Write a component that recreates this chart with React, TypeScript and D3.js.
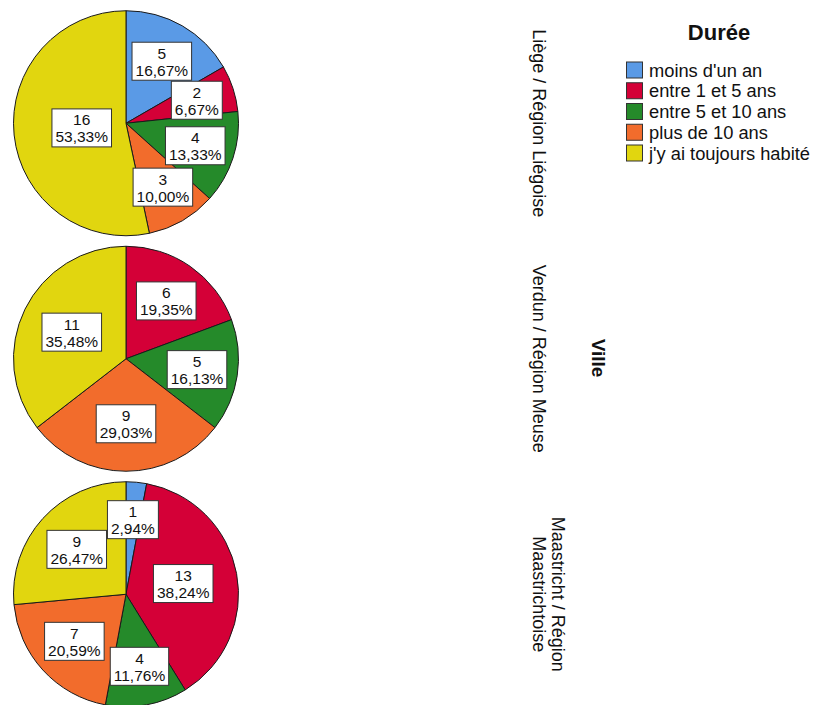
import React from "react";
import * as d3 from "d3";

// Durée de résidence, par ville
const categories = [
  "moins d'un an",
  "entre 1 et 5 ans",
  "entre 5 et 10 ans",
  "plus de 10 ans",
  "j'y ai toujours habité",
];
const colors = ["#5a9ae6", "#d40037", "#258a2a", "#f26c2c", "#e1d60f"];

const villes = ["Liège", "Verdun", "Maastricht"];
const villeLabels = [
  ["Liège / Région Liégoise"],
  ["Verdun / Région Meuse"],
  ["Maastricht / Région", "Maastrichtoise"],
];

const liegeCounts = [5, 2, 4, 3, 16];
const verdunCounts = [0, 6, 5, 9, 11];
const maastrichtCounts = [1, 13, 4, 7, 9];
const countsByVille = [liegeCounts, verdunCounts, maastrichtCounts];

const W = 814;
const H = 705;
const FONT = "'Liberation Sans', Arial, Helvetica, sans-serif";
const LABEL_SIZE = 15.5;

let measureCtx: CanvasRenderingContext2D | null = null;
function textWidth(s: string, size: number, weight = "normal") {
  if (!measureCtx) {
    const c = document.createElement("canvas");
    measureCtx = c.getContext("2d");
  }
  if (!measureCtx) return s.length * size * 0.55;
  measureCtx.font = `${weight} ${size}px 'Liberation Sans', Arial, sans-serif`;
  return measureCtx.measureText(s).width;
}

const fmtPct = (v: number) => v.toFixed(2).replace(".", ",") + "%";

export default function App() {
  const cx = 126;
  const radius = 112.5;
  const row = d3.scaleBand<string>().domain(villes).range([5.5, 712]).padding(0);

  const pie = d3
    .pie<number>()
    .sort(null)
    .value((d) => d)
    .startAngle(0)
    .endAngle(2 * Math.PI);
  const arc = d3.arc<d3.PieArcDatum<number>>().innerRadius(0).outerRadius(radius);

  const legendY = d3
    .scaleLinear()
    .domain([0, categories.length - 1])
    .range([70, 153]);

  return (
    <svg
      width={W}
      height={H}
      style={{ position: "absolute", left: 0, top: 0, background: "#fff" }}
      fontFamily={FONT}
    >
      {villes.map((v, vi) => {
        const counts = countsByVille[vi];
        const total = d3.sum(counts);
        const cy = (row(v) ?? 0) + row.bandwidth() / 2;
        const arcs = pie(counts);
        return (
          <g key={v} transform={`translate(${cx},${cy})`}>
            {arcs.map((a, i) =>
              a.value > 0 ? (
                <path
                  key={i}
                  d={arc(a) ?? ""}
                  fill={colors[i]}
                  stroke="#1a1a1a"
                  strokeWidth={1}
                  strokeLinejoin="round"
                />
              ) : null
            )}
            {arcs.map((a, i) => {
              if (a.value <= 0) return null;
              // label sits at the centroid of the circular sector
              const half = (a.endAngle - a.startAngle) / 2;
              const mid = a.startAngle + half;
              const dist = (2 * radius * Math.sin(half)) / (3 * half);
              const lx = dist * Math.sin(mid);
              const ly = -dist * Math.cos(mid);
              const l1 = String(a.value);
              const l2 = fmtPct((a.value / total) * 100);
              const w =
                Math.max(textWidth(l1, LABEL_SIZE), textWidth(l2, LABEL_SIZE)) + 7;
              const h = 38;
              return (
                <g key={"l" + i} transform={`translate(${lx},${ly})`}>
                  <rect
                    x={-w / 2}
                    y={-h / 2}
                    width={w}
                    height={h}
                    fill="#fff"
                    stroke="#333"
                    strokeWidth={1}
                  />
                  <text
                    textAnchor="middle"
                    fontSize={LABEL_SIZE}
                    fill="#111"
                    y={-8}
                    dominantBaseline="central"
                  >
                    {l1}
                  </text>
                  <text
                    textAnchor="middle"
                    fontSize={LABEL_SIZE}
                    fill="#111"
                    y={9}
                    dominantBaseline="central"
                  >
                    {l2}
                  </text>
                </g>
              );
            })}
          </g>
        );
      })}

      {/* facet labels, rotated */}
      {villes.map((v, vi) => {
        const cy = (row(v) ?? 0) + row.bandwidth() / 2;
        const lines = villeLabels[vi];
        return (
          <text
            key={"f" + v}
            transform={`translate(539,${cy}) rotate(90)`}
            textAnchor="middle"
            fontSize={18}
            fill="#111"
          >
            {lines.map((ln, li) => (
              <tspan
                key={li}
                x={0}
                dy={li === 0 ? 6 - (lines.length - 1) * 19 : 19}
              >
                {ln}
              </tspan>
            ))}
          </text>
        );
      })}

      <text
        transform={`translate(598,358) rotate(90)`}
        textAnchor="middle"
        dominantBaseline="central"
        fontSize={19}
        fontWeight="bold"
        fill="#111"
      >
        Ville
      </text>

      {/* legend */}
      <text x={719} y={40} textAnchor="middle" fontSize={22} fontWeight="bold" fill="#111">
        Durée
      </text>
      {categories.map((c, i) => (
        <g key={c} transform={`translate(626,${legendY(i)})`}>
          <rect x={0.5} y={-8} width={16} height={16} fill={colors[i]} stroke="#333" strokeWidth={1} />
          <text x={23} y={0} dominantBaseline="central" fontSize={18.3} fill="#111">
            {c}
          </text>
        </g>
      ))}
    </svg>
  );
}
